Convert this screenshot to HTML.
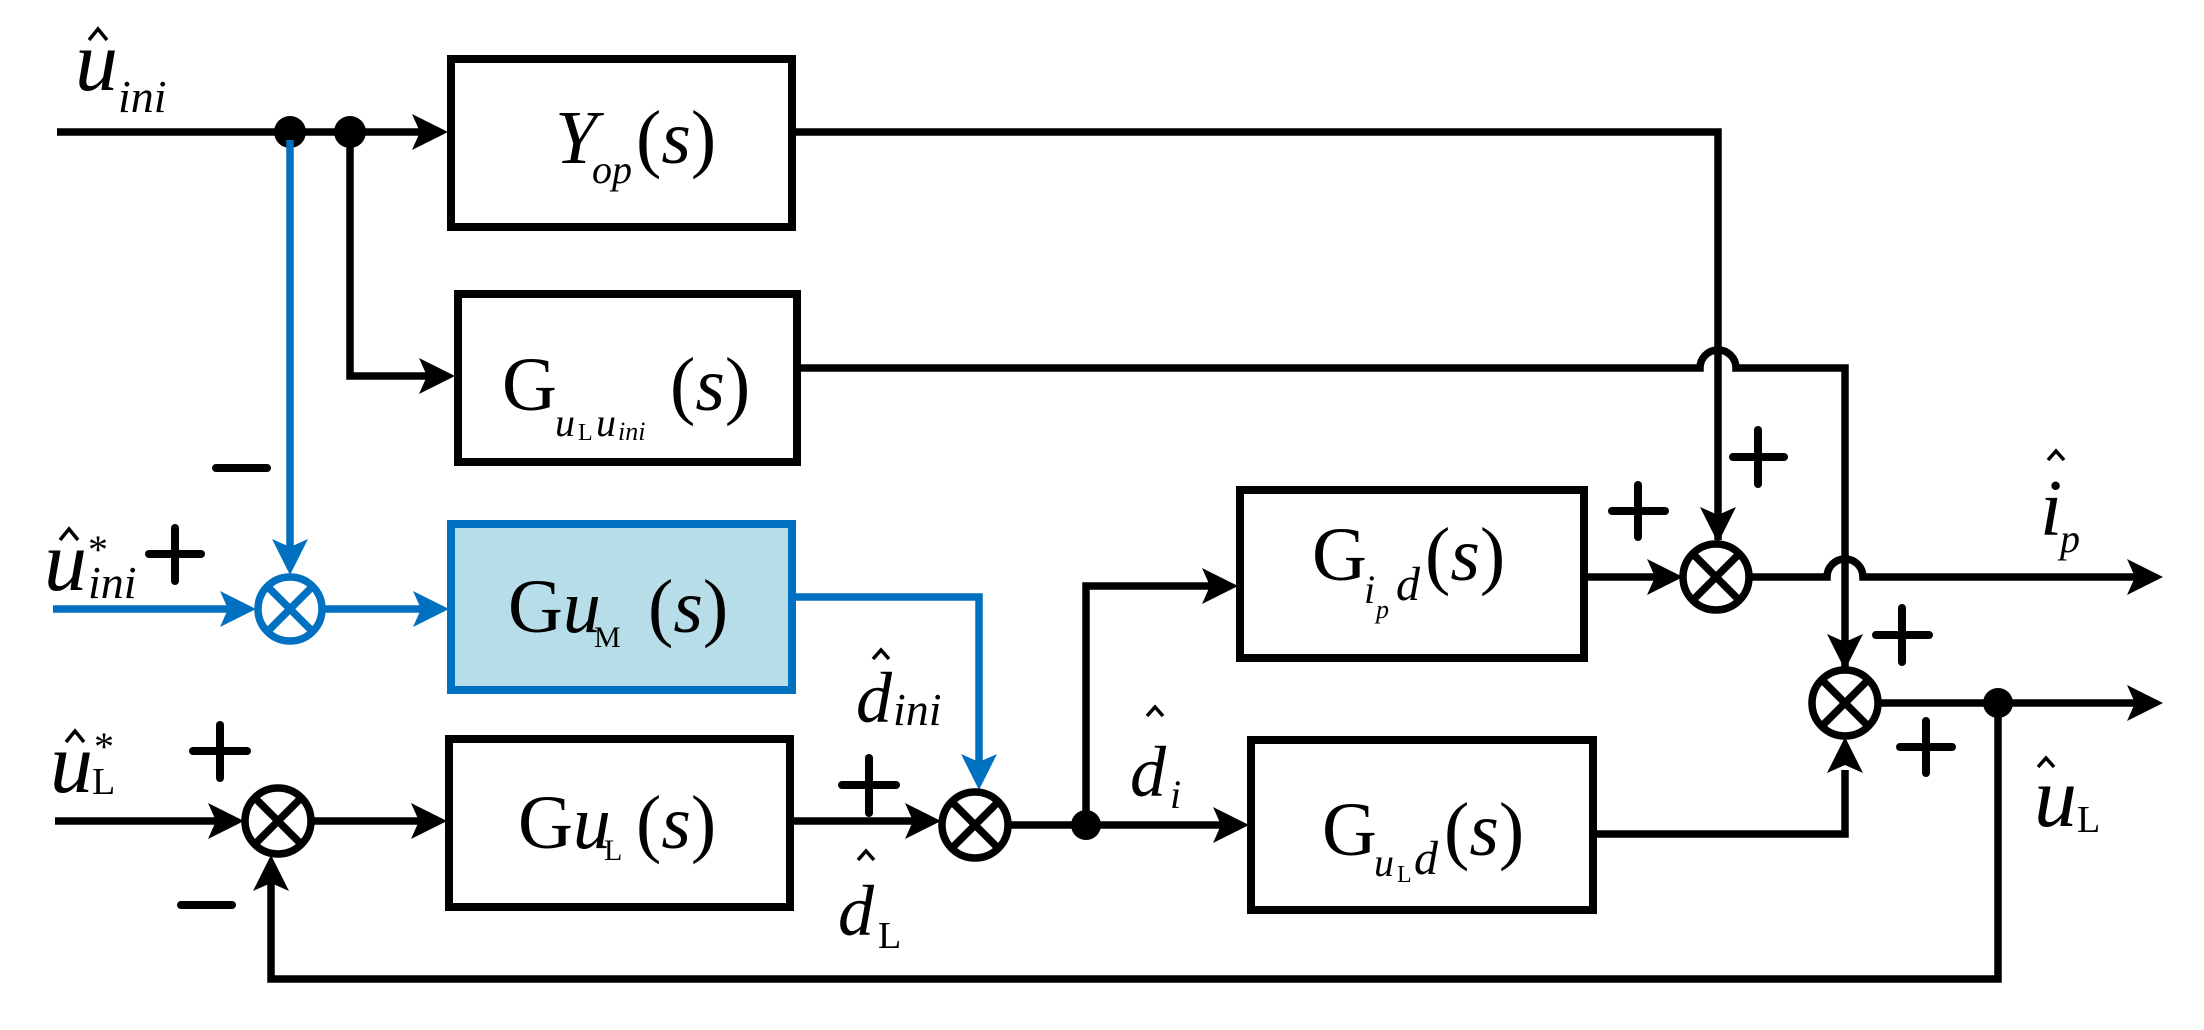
<!DOCTYPE html>
<html><head><meta charset="utf-8"><style>
html,body{margin:0;padding:0;background:#fff;}
svg{display:block;}
text{font-family:"Liberation Serif",serif;}
</style></head><body>
<svg width="2204" height="1030" viewBox="0 0 2204 1030" xmlns="http://www.w3.org/2000/svg">
<g stroke="#000" stroke-width="8" fill="none" stroke-linejoin="miter">
<rect x="451" y="59" width="341" height="168"/>
<rect x="458" y="294" width="339" height="168"/>
<rect x="449" y="739" width="341" height="168"/>
<rect x="1240" y="490" width="344" height="168"/>
<rect x="1251" y="740" width="342" height="170"/>
</g>
<rect x="451" y="524" width="341" height="166" fill="#b7dde8" stroke="#0070c0" stroke-width="8"/>

<g stroke="#000" stroke-width="7.5" fill="none">
<line x1="57" y1="132" x2="420" y2="132"/>
<path d="M350,132 V376 H430"/>
<path d="M792,132 H1718 V540"/>
<path d="M797,368 H1700 A18,18 0 0 1 1736,368 H1845 V668"/>
<line x1="1584" y1="577" x2="1665" y2="577"/>
<path d="M1750,577 H1827 A18,18 0 0 1 1863,577 H2140"/>
<path d="M1593,834 H1845 V770"/>
<line x1="1879" y1="703" x2="2140" y2="703"/>
<path d="M1998,703 V979 H271 V880"/>
<line x1="55" y1="821" x2="220" y2="821"/>
<line x1="312" y1="821" x2="425" y2="821"/>
<line x1="790" y1="821" x2="918" y2="821"/>
<line x1="1009" y1="825" x2="1230" y2="825"/>
<path d="M1086,825 V586 H1215"/>
</g>
<g fill="#000">
<path d="M448,132 l-36,-18 l8,18 l-8,18z"/>
<path d="M455,376 l-36,-18 l8,18 l-8,18z"/>
<path d="M1718,543 l-18,-36 l18,8 l18,-8z"/>
<path d="M1238,586 l-36,-18 l8,18 l-8,18z"/>
<path d="M1683,577 l-36,-18 l8,18 l-8,18z"/>
<path d="M2163,577 l-36,-18 l8,18 l-8,18z"/>
<path d="M1845,670 l-18,-36 l18,8 l18,-8z"/>
<path d="M1845,737 l-18,36 l18,-8 l18,8z"/>
<path d="M2163,703 l-36,-18 l8,18 l-8,18z"/>
<path d="M244,821 l-36,-18 l8,18 l-8,18z"/>
<path d="M447,821 l-36,-18 l8,18 l-8,18z"/>
<path d="M941,821 l-36,-18 l8,18 l-8,18z"/>
<path d="M271,855 l-18,36 l18,-8 l18,8z"/>
<path d="M1249,825 l-36,-18 l8,18 l-8,18z"/>
<circle cx="290" cy="132" r="16"/>
<circle cx="350" cy="132" r="16"/>
<circle cx="1086" cy="825" r="15"/>
<circle cx="1998" cy="703" r="15"/>
</g>
<g stroke="#0070c0" stroke-width="7.5" fill="none">
<line x1="290" y1="140" x2="290" y2="560"/>
<line x1="53" y1="609" x2="230" y2="609"/>
<line x1="325" y1="609" x2="425" y2="609"/>
<path d="M792,597 H979 V770"/>
<circle cx="290" cy="609" r="32"/>
<line x1="268" y1="587" x2="312" y2="631"/><line x1="312" y1="587" x2="268" y2="631"/>
</g>
<g fill="#0070c0">
<path d="M290,575 l-18,-36 l18,8 l18,-8z"/>
<path d="M256,609 l-36,-18 l8,18 l-8,18z"/>
<path d="M449,609 l-36,-18 l8,18 l-8,18z"/>
<path d="M979,790 l-18,-36 l18,8 l18,-8z"/>
</g>
<g stroke="#000" stroke-width="7.5" fill="none">
<circle cx="278" cy="821" r="33"/><line x1="255" y1="798" x2="301" y2="844"/><line x1="301" y1="798" x2="255" y2="844"/>
<circle cx="975" cy="825" r="33"/><line x1="952" y1="802" x2="998" y2="848"/><line x1="998" y1="802" x2="952" y2="848"/>
<circle cx="1716" cy="577" r="33"/><line x1="1693" y1="554" x2="1739" y2="600"/><line x1="1739" y1="554" x2="1693" y2="600"/>
<circle cx="1845" cy="703" r="33"/><line x1="1822" y1="680" x2="1868" y2="726"/><line x1="1868" y1="680" x2="1822" y2="726"/>
</g>
<g stroke="#000" stroke-width="8" stroke-linecap="round">
<line x1="216" y1="468" x2="267" y2="468"/>
<line x1="149" y1="554" x2="201" y2="554"/><line x1="175" y1="528" x2="175" y2="581"/>
<line x1="193" y1="751" x2="247" y2="751"/><line x1="220" y1="725" x2="220" y2="778"/>
<line x1="181" y1="905" x2="232" y2="905"/>
<line x1="842" y1="785" x2="896" y2="785"/><line x1="869" y1="758" x2="869" y2="813"/>
<line x1="1612" y1="511" x2="1665" y2="511"/><line x1="1638" y1="485" x2="1638" y2="537"/>
<line x1="1733" y1="457" x2="1784" y2="457"/><line x1="1758" y1="430" x2="1758" y2="484"/>
<line x1="1876" y1="635" x2="1929" y2="635"/><line x1="1902" y1="608" x2="1902" y2="662"/>
<line x1="1900" y1="747" x2="1952" y2="747"/><line x1="1926" y1="721" x2="1926" y2="773"/>
</g>
<g stroke="#000" stroke-width="3.5" fill="none">
<path d="M89,40 L98,29 L107,40"/>
<path d="M60,540 L69,529 L78,540"/>
<path d="M66,742 L75,731 L84,742"/>
<path d="M873,659 L881,650 L889,659"/>
<path d="M858,860 L866,851 L874,860"/>
<path d="M1147,716 L1155,707 L1163,716"/>
<path d="M2048,460 L2056,451 L2064,460"/>
<path d="M2038,767 L2046,758 L2054,767"/>
</g>
<g font-style="italic" fill="#000">
<text x="75" y="90" font-size="86">u</text><text x="118" y="112" font-size="46">ini</text>
<text x="44" y="590" font-size="86">u</text><text x="88" y="598" font-size="46">ini</text><text x="88" y="563" font-size="40" font-style="normal">*</text>
<text x="50" y="792" font-size="86">u</text><text x="92" y="794" font-size="38" font-style="normal">L</text><text x="94" y="760" font-size="40" font-style="normal">*</text>
<text x="856" y="722" font-size="72">d</text><text x="893" y="725" font-size="46">ini</text>
<text x="838" y="935" font-size="72">d</text><text x="878" y="948" font-size="38" font-style="normal">L</text>
<text x="1130" y="796" font-size="72">d</text><text x="1170" y="808" font-size="40">i</text>
<text x="2040" y="535" font-size="80">i</text><text x="2060" y="552" font-size="40">p</text>
<text x="2034" y="826" font-size="86">u</text><text x="2077" y="832" font-size="38" font-style="normal">L</text>
</g>
<g fill="#000" font-size="76">
<text x="555" y="163" font-style="italic">Y</text><text x="592" y="183" font-size="40" font-style="italic">op</text><text x="636" y="163">(<tspan font-style="italic">s</tspan>)</text>
<text x="502" y="410">G</text><text x="555" y="436" font-size="40" font-style="italic">u</text><text x="578" y="440" font-size="24">L</text><text x="596" y="436" font-size="40" font-style="italic">u</text><text x="618" y="440" font-size="26" font-style="italic">ini</text><text x="670" y="410">(<tspan font-style="italic">s</tspan>)</text>
<text x="508" y="632">G<tspan font-style="italic">u</tspan></text><text x="594" y="647" font-size="30">M</text><text x="648" y="632">(<tspan font-style="italic">s</tspan>)</text>
<text x="518" y="848">G<tspan font-style="italic">u</tspan></text><text x="604" y="860" font-size="30">L</text><text x="636" y="848">(<tspan font-style="italic">s</tspan>)</text>
<text x="1312" y="580">G</text><text x="1364" y="603" font-size="40" font-style="italic">i</text><text x="1376" y="618" font-size="26" font-style="italic">p</text><text x="1396" y="600" font-size="48" font-style="italic">d</text><text x="1425" y="580">(<tspan font-style="italic">s</tspan>)</text>
<text x="1322" y="855">G</text><text x="1374" y="876" font-size="40" font-style="italic">u</text><text x="1397" y="882" font-size="24">L</text><text x="1414" y="874" font-size="48" font-style="italic">d</text><text x="1444" y="855">(<tspan font-style="italic">s</tspan>)</text>
</g>
</svg>
</body></html>
